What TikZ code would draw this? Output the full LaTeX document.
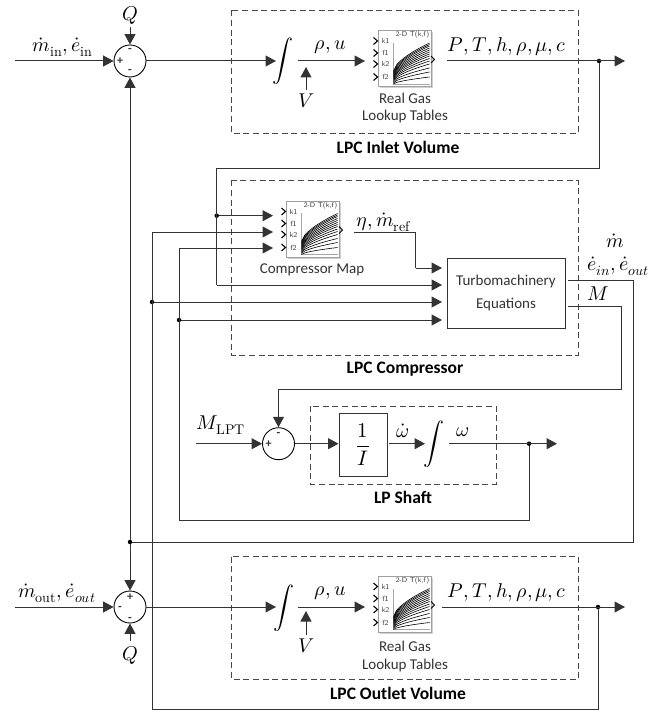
\documentclass[tikz,border=0pt]{standalone}
\usepackage{fontspec}
\usepackage{amsmath}
\setmainfont{Carlito}
\usepackage{unicode-math}
\setmathfont{Latin Modern Math}
\usetikzlibrary{arrows.meta,calc,positioning}
\definecolor{ln}{HTML}{333333}
\tikzset{
  wire/.style={draw=ln,line width=1pt},
  arr/.style={wire,-{Triangle[length=10.5pt,width=11pt]},shorten >=0pt},
  dashbox/.style={draw=ln!90!white,line width=0.9pt,dash pattern=on 6pt off 3.6pt},
  sumnode/.style={circle,draw=black,line width=0.9pt,minimum size=32pt,inner sep=0pt},
  sgn/.style={font=\bfseries\fontsize{12}{12}\selectfont,inner sep=0pt,text=ln},
  dot/.style={circle,fill=black,inner sep=0pt,minimum size=4.5pt},
  title/.style={font=\bfseries\fontsize{17.5}{19}\selectfont,text=black,inner sep=0pt},
  cap1/.style={font=\fontsize{15}{17}\selectfont,text=ln,inner sep=0pt},
  mathl/.style={font=\fontsize{20}{22}\selectfont,inner sep=0pt,text=black},
  intg/.style={font=\fontsize{21}{24}\selectfont,inner sep=0pt,text=black},
  plainbox/.style={draw=ln,line width=1pt,inner sep=0pt,fill=white},
  lookup/.pic={
    \fill[black!18] (-25,-26.5) rectangle (28,29.5);
    \fill[white] (-26.5,-28) rectangle (26.5,28);
    \draw[gray!75,line width=1pt] (-26.5,-28) rectangle (26.5,28);
    \draw[black!35,line width=.5pt] (-11,-16) -- (-11,25) -- (25,25);
    \foreach \s/\e in {12/-16,13/-14.5,14/-13,15/-11,16/-9,17/-7,18/-5,19/-3,20/-0.5,21/2,22/5,23/9,24/13,25/18}{
      \draw[black,line width=.6pt] plot[domain=0:1,samples=12,smooth]
        ({-11+36*\x},{\s+(\e-\s)*pow(\x,0.62)});
    }
    \foreach \n/\l in {-18/k1,-6/f1,5/k2,18/f2}{
      \node[font=\sffamily\fontsize{7.5}{8}\selectfont,text=black!75,inner sep=0pt] at (-19,\n) {\l};
      \draw[black,line width=1.1pt] (-31,\n-3.5) -- (-27,\n) -- (-31,\n+3.5);
    }
    \node[font=\sffamily\fontsize{7}{8}\selectfont,text=black!80,inner sep=0pt] at (8,-24) {2-D T(k,f)};
    \draw[black,line width=.8pt] (26.5,-3) -- (30,0.5) -- (26.5,4);
  }
}
\begin{document}
\begin{tikzpicture}[x=1pt,y=-1pt]
\useasboundingbox (0,0) rectangle (668,711);
% dashed frames
\draw[dashbox] (231.5,10.5) rectangle (578,133);
\draw[dashbox] (231.5,180.5) rectangle (578,355);
\draw[dashbox] (310.5,406) rectangle (496,484);
\draw[dashbox] (231.5,556.5) rectangle (578.5,679);
% sums
\node[sumnode] (s1) at (130,61) {};
\node[sumnode] (s2) at (130,607) {};
\node[sumnode] (s3) at (278.5,443.7) {};
\node[sgn] at (120,61) {+};
\node[sgn] at (130,50) {-};
\node[sgn] at (130,71) {-};
\node[sgn] at (130,597) {+};
\node[sgn] at (120,608) {-};
\node[sgn] at (130,619) {-};
\node[sgn] at (268.5,444.5) {+};
\node[sgn] at (278.5,434) {-};
% blocks
\node[plainbox,minimum width=118pt,minimum height=70pt] (tm) at (506,293) {};
\node[cap1] (tmA) at (506,281) {Turbomachinery};
\node[cap1] (tmB) at (506,305) {Equations};
\node[plainbox,minimum width=48pt,minimum height=63pt] (inv) at (363,444.5) {};
\node[inner sep=0pt,font=\fontsize{21}{24}\selectfont] (frac) at (363,444.5) {$\dfrac{1}{I}$};
\coordinate (t1) at (404.5,59);
\coordinate (t2) at (312.5,229.5);
\coordinate (t3) at (404.5,604.5);
\path (t1) pic {lookup};
\path (t2) pic {lookup};
\path (t3) pic {lookup};
% integrals
\node[intg] (i1) at (283,61) {$\displaystyle\int$};
\node[intg] (i2) at (284,608) {$\displaystyle\int$};
\node[intg] (i3) at (434,444) {$\displaystyle\int$};
% coordinates
\coordinate (in1) at (15,61);
\coordinate (in2) at (15,607);
\coordinate (q1t) at (130,27);
\coordinate (q2b) at (130,641);
\coordinate (i1e) at (276,61);
\coordinate (i2e) at (276,607);
\coordinate (r1s) at (298,61);
\coordinate (r1e) at (365,61);
\coordinate (r2s) at (298,607);
\coordinate (r2e) at (365,607);
\coordinate (v1s) at (306,90);
\coordinate (v1e) at (306,67);
\coordinate (v2s) at (306,635);
\coordinate (v2e) at (306,611);
\coordinate (o1s) at (447,61);
\coordinate (o1e) at (625,61);
\coordinate (o2s) at (442,607);
\coordinate (o2e) at (625,607);
\node[dot] (j1) at (599,61) {};
\node[dot] (j2) at (598,607) {};
\node[dot] (j3) at (529,443.7) {};
\node[dot] (j4) at (216.7,215.7) {};
\node[dot] (j5) at (152,302) {};
\node[dot] (j6) at (179,320) {};
\node[dot] (j7) at (130,542) {};
\coordinate (m1) at (273,215.7);
\coordinate (m2) at (273,232);
\coordinate (m3) at (273,248);
\coordinate (e1) at (442,268);
\coordinate (e2) at (442,285);
\coordinate (e3) at (442,302);
\coordinate (e4) at (442,320);
% wires
\draw[arr] (in1) -- (s1.west);
\draw[arr] (q1t) -- (s1.north);
\draw[arr] (s1.east) -- (i1e);
\draw[arr] (r1s) -- (r1e);
\draw[arr] (v1s) -- (v1e);
\draw[arr] (o1s) -- (o1e);
\draw[arr] (in2) -- (s2.west);
\draw[arr] (q2b) -- (s2.south);
\draw[arr] (s2.east) -- (i2e);
\draw[arr] (r2s) -- (r2e);
\draw[arr] (v2s) -- (v2e);
\draw[arr] (o2s) -- (o2e);
\draw[arr] (j7) -- (s1.south);
\draw[arr] (j7) -- (s2.north);
% inlet feedback
\draw[wire] (j1) |- (216.7,169) -- (216.7,285);
\draw[arr] (216.7,285) -- (e2);
\draw[arr] (j4) -- (m1);
% outlet feedback
\draw[wire] (j2) |- (152,709.5) -- (152,232);
\draw[arr] (152,232) -- (m2);
\draw[arr] (j5) -- (e3);
% shaft feedback
\draw[wire] (j3) |- (179,520.5) -- (179,248);
\draw[arr] (179,248) -- (m3);
\draw[arr] (j6) -- (e4);
% map to turbo
\draw[wire] (354,232) -- (415.7,232) -- (415.7,268);
\draw[arr] (415.7,268) -- (e1);
% turbo outputs
\draw[wire] (568,280) -- (633,280) -- (633,542) -- (j7);
\draw[wire] (568,306) -- (621,306) -- (621,389) -- (278.5,389);
\draw[arr] (278.5,389) -- (s3.north);
% shaft
\draw[arr] (196,443.7) -- (s3.west);
\draw[arr] (s3.east) -- (inv.west|-s3.east);
\draw[arr] (389,443.7) -- (425,443.7);
\draw[arr] (449,443.7) -- (557,443.7);
% labels
\node[title] at (398,147) {LPC Inlet Volume};
\node[title] at (405,369) {LPC Compressor};
\node[title] at (403,497) {LP Shaft};
\node[title] at (398,693) {LPC Outlet Volume};
\node[cap1] at (405,98) {Real Gas};
\node[cap1] at (405,117) {Lookup Tables};
\node[cap1] at (405,646) {Real Gas};
\node[cap1] at (405,665) {Lookup Tables};
\node[cap1] at (312,270) {Compressor Map};
\node[mathl] at (130,15) {$Q$};
\node[mathl] at (130,655) {$Q$};
\node[mathl] at (306,101) {$V$};
\node[mathl] at (306,646) {$V$};
\node[mathl] at (63,47) {$\dot m_{\symup{in}},\dot e_{\symup{in}}$};
\node[mathl] at (57,593) {$\dot m_{\symup{out}},\dot e_{out}$};
\node[mathl] at (330,47) {$\rho,u$};
\node[mathl] at (330,593) {$\rho,u$};
\node[mathl] at (507,47) {$P,T,h,\rho,\mu,c$};
\node[mathl] at (507,593) {$P,T,h,\rho,\mu,c$};
\node[mathl] at (384,222) {$\eta,\dot m_{\symup{ref}}$};
\node[mathl] at (615,241) {$\dot m$};
\node[mathl] at (618,266) {$\dot e_{in},\dot e_{out}$};
\node[mathl] at (598,294) {$M$};
\node[mathl] at (221,425) {$M_{\symup{LPT}}$};
\node[mathl] at (403,431) {$\dot\omega$};
\node[mathl] at (463,432) {$\omega$};
\end{tikzpicture}
\end{document}
